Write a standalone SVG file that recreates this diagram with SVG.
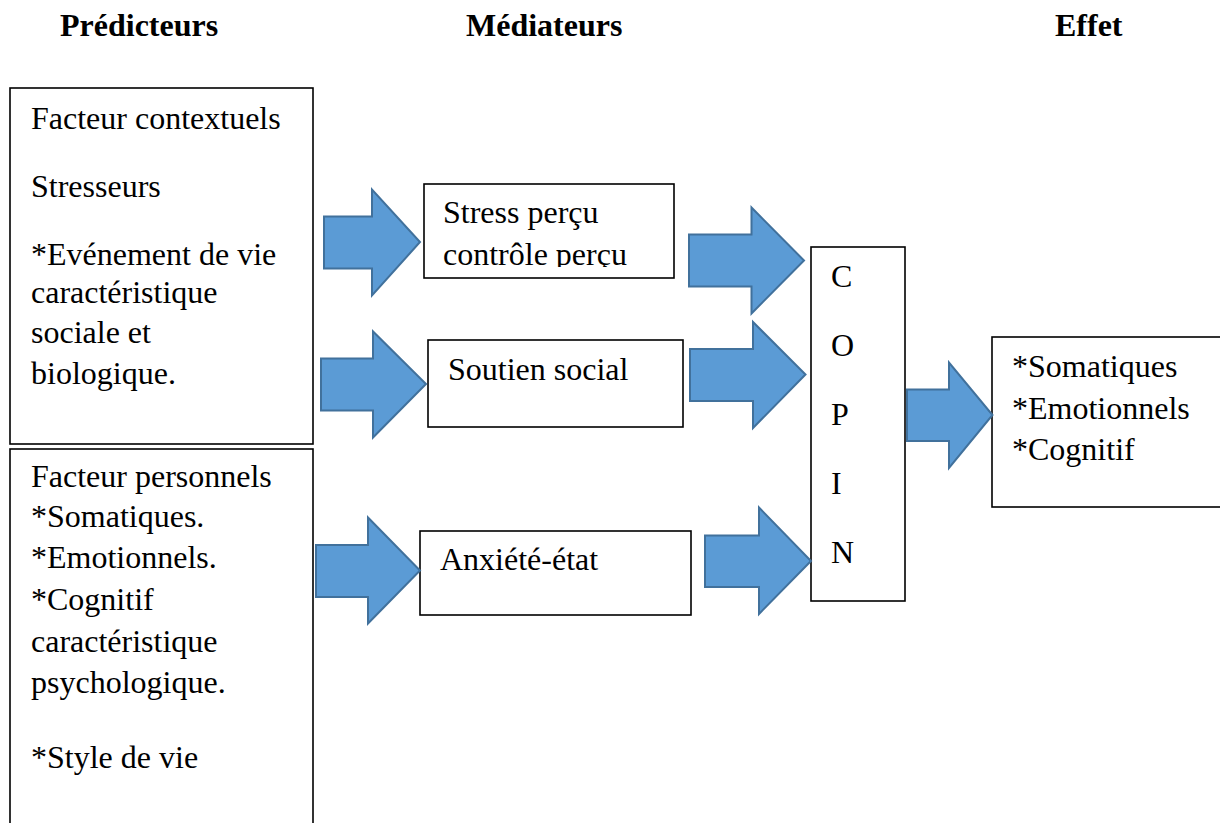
<svg xmlns="http://www.w3.org/2000/svg" width="1220" height="823" viewBox="0 0 1220 823">
<style>
.hdr{font-family:"Liberation Serif","Times New Roman",serif;font-weight:bold;font-size:32px;fill:#000}
.t{font-family:"Liberation Serif","Times New Roman",serif;font-size:32px;fill:#000}
.box{fill:#fff;stroke:#000;stroke-width:1.6}
.arr{fill:#5B9BD5;stroke:#41719C;stroke-width:2;stroke-linejoin:miter}
</style>
<defs>
<clipPath id="clipStress"><rect x="424" y="184" width="250" height="83"/></clipPath>
</defs>
<rect width="1220" height="823" fill="#fff"/>
<g id="headers">
<text class="hdr" x="60" y="36">Prédicteurs</text>
<text class="hdr" x="466" y="36">Médiateurs</text>
<text class="hdr" x="1055" y="36">Effet</text>
</g>
<g id="node-contextuels">
<rect class="box" x="10" y="88" width="303" height="356"/>
<text class="t" x="31" y="129">Facteur contextuels</text>
<text class="t" x="31" y="197">Stresseurs</text>
<text class="t" x="31" y="265">*Evénement de vie</text>
<text class="t" x="31" y="303">caractéristique</text>
<text class="t" x="31" y="343">sociale et</text>
<text class="t" x="31" y="384">biologique.</text>
</g>
<g id="node-personnels">
<rect class="box" x="10" y="449" width="303" height="390"/>
<text class="t" x="31" y="487">Facteur personnels</text>
<text class="t" x="31" y="527">*Somatiques.</text>
<text class="t" x="31" y="568">*Emotionnels.</text>
<text class="t" x="31" y="610">*Cognitif</text>
<text class="t" x="31" y="652">caractéristique</text>
<text class="t" x="31" y="693">psychologique.</text>
<text class="t" x="31" y="768">*Style de vie</text>
</g>
<g id="node-stress">
<rect class="box" x="424" y="184" width="250" height="94"/>
<g clip-path="url(#clipStress)">
<text class="t" x="443" y="223">Stress perçu</text>
<text class="t" x="443" y="265">contrôle perçu</text>
</g>
</g>
<g id="node-soutien">
<rect class="box" x="428" y="340" width="255" height="87"/>
<text class="t" x="448" y="380">Soutien social</text>
</g>
<g id="node-anxiete">
<rect class="box" x="420" y="531" width="271" height="84"/>
<text class="t" x="440" y="570">Anxiété-état</text>
</g>
<g id="node-coping">
<rect class="box" x="811" y="247" width="94" height="354"/>
<text class="t" x="831" y="287">C</text>
<text class="t" x="831" y="356">O</text>
<text class="t" x="831" y="425">P</text>
<text class="t" x="831" y="494">I</text>
<text class="t" x="831" y="563">N</text>
</g>
<g id="node-effet">
<rect class="box" x="992" y="337" width="240" height="170"/>
<text class="t" x="1012" y="377">*Somatiques</text>
<text class="t" x="1012" y="419">*Emotionnels</text>
<text class="t" x="1012" y="460">*Cognitif</text>
</g>
<g id="connectors">
<polygon class="arr" points="324,216.5 372,216.5 372,189.5 420,242 372,295.5 372,268.5 324,268.5"/>
<polygon class="arr" points="321,358.5 373,358.5 373,331.5 426,384 373,437.5 373,410.5 321,410.5"/>
<polygon class="arr" points="316,545 368,545 368,517.5 420,570.5 368,623.5 368,597 316,597"/>
<polygon class="arr" points="689,234.5 751.5,234.5 751.5,207.5 804,260.5 751.5,313.5 751.5,286.5 689,286.5"/>
<polygon class="arr" points="690,349 753,349 753,322 805.5,374.5 753,428 753,401 690,401"/>
<polygon class="arr" points="705,535.5 759,535.5 759,507.5 811,561 759,614 759,587 705,587"/>
<polygon class="arr" points="907,389.5 949,389.5 949,362.5 992.5,415 949,468 949,441 907,441"/>
</g>
</svg>
